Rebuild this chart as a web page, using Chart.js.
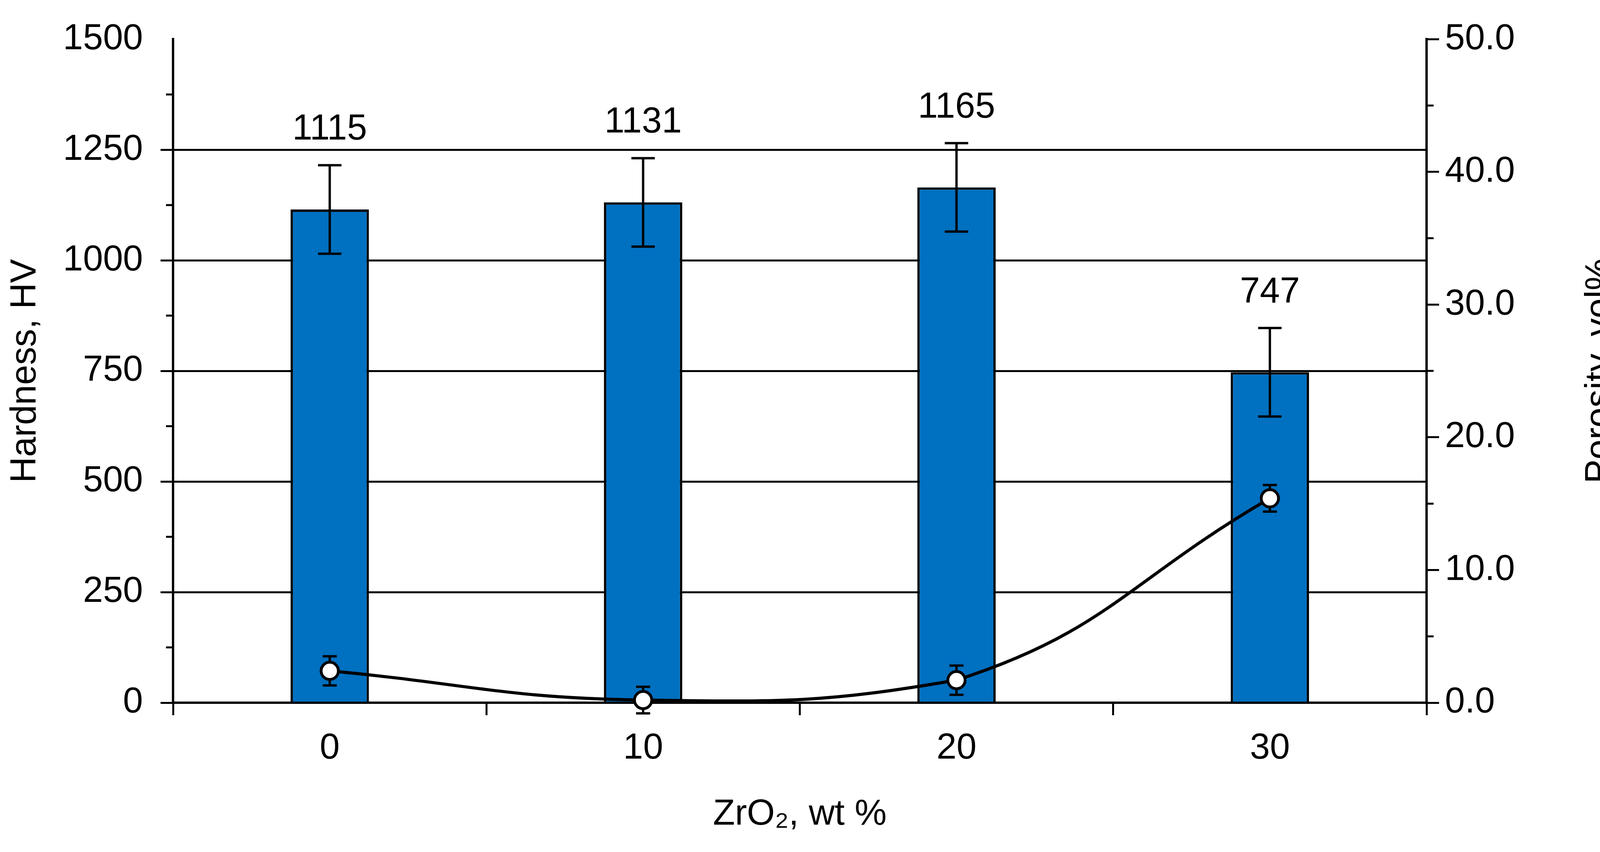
<!DOCTYPE html>
<html>
<head>
<meta charset="utf-8">
<script src="https://cdn.jsdelivr.net/npm/chart.js@4"></script>
<style>
  html, body { margin: 0; padding: 0; background: #fff; }
  #wrap { width: 4159px; height: 2180px; }
</style>
</head>
<body>
<div id="wrap"><canvas id="c" width="4159" height="2180"></canvas></div>
<script>
// data
const zrO2 = ['0', '10', '20', '30'];
const hardness = [1115, 1131, 1165, 747];
const hardnessErr = [100, 100, 100, 100];
const porosity = [2.4, 0.2, 1.7, 15.4];
const porosityErr = [1.1, 1.0, 1.1, 1.0];

const FONT = 'Liberation Sans, Arial, sans-serif';
const FS = 92;
const BLACK = '#000';

// error bars, value labels, minor ticks, right axis title
const extras = {
    id: 'extras',
    afterDatasetsDraw(chart) {
        const ctx = chart.ctx;
        const y = chart.scales.y, y2 = chart.scales.y2;
        const area = chart.chartArea;
        ctx.save();
        ctx.strokeStyle = BLACK;
        ctx.lineWidth = 6;
        const drawErr = (x, v, e, sc, cap) => {
            const top = sc.getPixelForValue(v + e), bot = sc.getPixelForValue(v - e);
            ctx.beginPath();
            ctx.moveTo(x, top); ctx.lineTo(x, bot);
            ctx.moveTo(x - cap, top); ctx.lineTo(x + cap, top);
            ctx.moveTo(x - cap, bot); ctx.lineTo(x + cap, bot);
            ctx.stroke();
            return top;
        };
        chart.getDatasetMeta(0).data.forEach((bar, i) => {
            const top = drawErr(bar.x, hardness[i], hardnessErr[i], y, 30);
            ctx.fillStyle = BLACK;
            ctx.font = FS + 'px ' + FONT;
            ctx.textAlign = 'center';
            ctx.textBaseline = 'bottom';
            ctx.fillText(String(hardness[i]), bar.x, top - 45);
        });
        const meta = chart.getDatasetMeta(1);
        meta.data.forEach((pt, i) => drawErr(pt.x, porosity[i], porosityErr[i], y2, 18));
        meta.data.forEach(pt => pt.draw(ctx));

        // minor ticks
        ctx.lineWidth = 5;
        ctx.beginPath();
        for (let v = 125; v < 1500; v += 250) {
            const py = y.getPixelForValue(v);
            ctx.moveTo(area.left - 18, py); ctx.lineTo(area.left, py);
        }
        for (let v = 5; v < 50; v += 10) {
            const py = y2.getPixelForValue(v);
            ctx.moveTo(area.right, py); ctx.lineTo(area.right + 18, py);
        }
        ctx.stroke();

        // right axis title, reading bottom to top
        ctx.translate(4097, (area.top + area.bottom) / 2);
        ctx.rotate(-Math.PI / 2);
        ctx.fillStyle = BLACK;
        ctx.font = FS + 'px ' + FONT;
        ctx.textAlign = 'center';
        ctx.textBaseline = 'middle';
        ctx.fillText('Porosity, vol%', 0, 0);
        ctx.restore();
    }
};

new Chart(document.getElementById('c'), {
    data: {
        labels: zrO2,
        datasets: [
            {
                type: 'bar',
                label: 'Hardness',
                data: hardness,
                yAxisID: 'y',
                backgroundColor: '#0070C0',
                borderColor: BLACK,
                borderWidth: 6,
                barPercentage: 0.25,
                categoryPercentage: 1.0,
                order: 2
            },
            {
                type: 'line',
                label: 'Porosity',
                data: porosity,
                yAxisID: 'y2',
                borderColor: BLACK,
                borderWidth: 8,
                tension: 0.45,
                clip: false,
                pointRadius: 22,
                pointBackgroundColor: '#fff',
                pointBorderColor: BLACK,
                pointBorderWidth: 7,
                order: 1
            }
        ]
    },
    options: {
        responsive: false,
        animation: false,
        devicePixelRatio: 1,
        layout: { padding: { top: 51, left: 0, right: 0, bottom: 0 } },
        plugins: { legend: { display: false }, tooltip: { enabled: false } },
        scales: {
            x: {
                offset: true,
                grid: { offset: true, drawOnChartArea: false, color: BLACK, lineWidth: 5, tickLength: 32 },
                border: { color: BLACK, width: 6 },
                ticks: { color: BLACK, font: { family: FONT, size: FS }, padding: 30 },
                title: { display: true, text: 'ZrO\u2082, wt %', color: BLACK, font: { family: FONT, size: FS }, padding: { top: 20, bottom: 40 } },
                afterFit: s => { s.height = 382; }
            },
            y: {
                position: 'left',
                min: 0, max: 1500,
                ticks: { stepSize: 250, color: BLACK, font: { family: FONT, size: FS }, padding: 45, callback: v => String(v) },
                grid: { color: ctx => ctx.tick && ctx.tick.value === 1500 ? 'rgba(0,0,0,0)' : BLACK, lineWidth: 5, tickLength: 32 },
                border: { color: BLACK, width: 6 },
                title: { display: true, text: 'Hardness, HV', color: BLACK, font: { family: FONT, size: FS }, padding: { top: 10, bottom: 10 } },
                afterFit: s => { s.width = 443; }
            },
            y2: {
                position: 'right',
                min: 0, max: 50,
                ticks: { stepSize: 10, color: BLACK, font: { family: FONT, size: FS }, padding: 15, callback: v => v.toFixed(1) },
                grid: { drawOnChartArea: false, color: BLACK, lineWidth: 5, tickLength: 32 },
                border: { color: BLACK, width: 6 },
                afterFit: s => { s.width = 507; }
            }
        }
    },
    plugins: [extras]
});
</script>
</body>
</html>
